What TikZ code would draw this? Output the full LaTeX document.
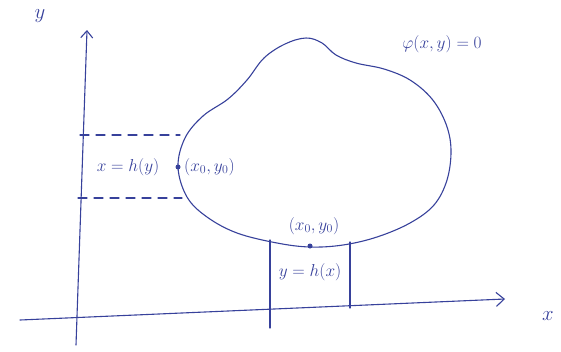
\documentclass[tikz,border=0pt]{standalone}
\usepackage{fontspec}
\setmainfont{DejaVu Sans}
\usetikzlibrary{arrows.meta}
\definecolor{ink}{RGB}{55,65,155}
\begin{document}
\begin{tikzpicture}[x=1pt,y=-1pt,
  pen/.style={draw=ink,line width=1.1pt,line cap=round,line join=round},
  lbl/.style={text=ink,inner sep=1pt,font=\fontsize{18}{20}\selectfont},
  sml/.style={text=ink,inner sep=1pt,font=\fontsize{17}{19}\selectfont},
  dot/.style={circle,fill=ink,inner sep=0pt,minimum size=5pt},
  dsh/.style={pen,dash pattern=on 9pt off 7pt}]
\useasboundingbox (0,0) rectangle (561,351);
% axes
\coordinate (yb) at (76,345);
\coordinate (yt) at (87,30);
\coordinate (xb) at (20,320);
\coordinate (xt) at (505,299);
\draw[pen,-{Straight Barb[length=7pt,width=12pt]}] (yb) -- (yt);
\draw[pen,-{Straight Barb[length=8pt,width=14pt]}] (xb) -- (xt);
\node[lbl,font=\fontsize{22}{24}\selectfont] (ylab) at (40,16) {$y$};
\node[lbl,font=\fontsize{22}{24}\selectfont] (xlab) at (548,316) {$x$};
% blob
\draw[pen] plot[smooth cycle,tension=0.6] coordinates {
  (178,167) (185,138) (203,116) (228,99) (247,80) (264,58) (285,44)
  (306,38) (322,43) (336,55) (356,63) (384,69) (410,80)
  (432,99) (446,124) (451,150) (447,180) (434,205) (410,223) (377,237)
  (343,245) (310,247) (277,243) (237,233) (207,217) (187,197)};
\node[lbl,font=\fontsize{19}{21}\selectfont] (phi) at (442,44) {$\varphi(x,y)=0$};
% left projection
\coordinate (d1a) at (80,135);
\coordinate (d1b) at (180,135);
\coordinate (d2a) at (78,198);
\coordinate (d2b) at (182,198);
\draw[dsh] (d1a) -- (d1b);
\draw[dsh] (d2a) -- (d2b);
\node[dot] (p1) at (178,167) {};
\node[lbl] (hy) at (128,167) {$x=h(y)$};
\node[sml,anchor=west] (p1lab) at (183,167) {$(x_0,y_0)$};
% bottom projection
\node[dot] (p2) at (310,246) {};
\node[sml] (p2lab) at (314,226) {$(x_0,y_0)$};
\coordinate (v1a) at (270,240);
\coordinate (v1b) at (270,328);
\coordinate (v2a) at (350,242);
\coordinate (v2b) at (350,308);
\draw[pen] (v1a) -- (v1b);
\draw[pen] (v2a) -- (v2b);
\node[lbl] (hx) at (310,272) {$y=h(x)$};
\end{tikzpicture}
\end{document}
